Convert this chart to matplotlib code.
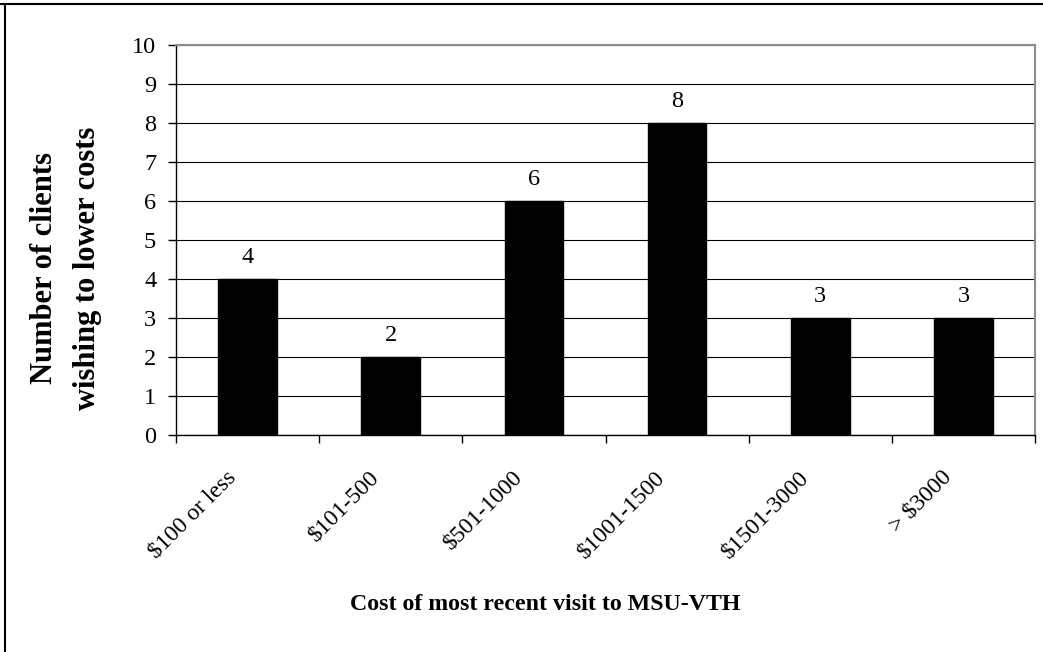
import matplotlib.pyplot as plt
from matplotlib.lines import Line2D
import numpy as np

# Survey results: clients wishing to lower costs, by cost of last visit
categories = ['$100 or less', '$101-500', '$501-1000', '$1001-1500', '$1501-3000', '> $3000']
clients = [4, 2, 6, 8, 3, 3]
y_ticks = list(range(0, 11))

plt.rcParams['font.family'] = 'Liberation Serif'

fig = plt.figure(figsize=(10.43, 6.52), dpi=100)
ax = fig.add_axes([176 / 1043, 217 / 652, (1035 - 176) / 1043, 390 / 652])

x = np.arange(len(categories))
ax.bar(x, clients, width=0.41, color='black', edgecolor='black', zorder=3)

ax.set_xlim(-0.5, len(categories) - 0.5)
ax.set_ylim(0, 10)
ax.set_yticks(y_ticks)
ax.set_yticklabels([str(t) for t in y_ticks], fontsize=17.5)
ax.set_xticks(np.arange(-0.5, len(categories), 1.0))
ax.set_xticklabels([])
ax.tick_params(axis='both', direction='out', length=5.8, width=1, color='black')
ax.tick_params(axis='y', pad=8.5)

ax.yaxis.grid(True, color='black', lw=0.8, zorder=0)
ax.set_axisbelow(True)
for side in ['left', 'bottom']:
    ax.spines[side].set_color('black')
    ax.spines[side].set_linewidth(1.0)
for side in ['top', 'right']:
    ax.spines[side].set_color('#8c8c8c')
    ax.spines[side].set_linewidth(1.5)

# value on top of each bar
for xi, v in zip(x, clients):
    ax.annotate(str(v), xy=(xi, v), xytext=(0, 16), textcoords='offset pixels',
                ha='center', va='baseline', fontsize=17.5)

# slanted category names below the axis
for xi, name in zip(x, categories):
    ax.annotate(name, xy=(xi, 0), xycoords=('data', 'axes fraction'),
                xytext=(-15, -39), textcoords='offset pixels',
                rotation=45, rotation_mode='anchor', ha='right', va='center',
                fontsize=17)

fig.text(545 / 1043, 1 - 605 / 652, 'Cost of most recent visit to MSU-VTH',
         ha='center', va='center', fontsize=17.2, fontweight='bold')
fig.text(45 / 1043, 1 - 268 / 652, 'Number of clients', rotation=90,
         ha='center', va='center', fontsize=22, fontweight='bold')
fig.text(88 / 1043, 1 - 268 / 652, 'wishing to lower costs', rotation=90,
         ha='center', va='center', fontsize=22, fontweight='bold')

# chart frame (top and left edges)
fig.add_artist(Line2D([0, 1], [1 - 4 / 652] * 2, transform=fig.transFigure,
                      color='black', lw=1.5))
fig.add_artist(Line2D([5 / 1043] * 2, [0, 1 - 4 / 652], transform=fig.transFigure,
                      color='black', lw=1.5))

fig.savefig('out.png', dpi=100)
